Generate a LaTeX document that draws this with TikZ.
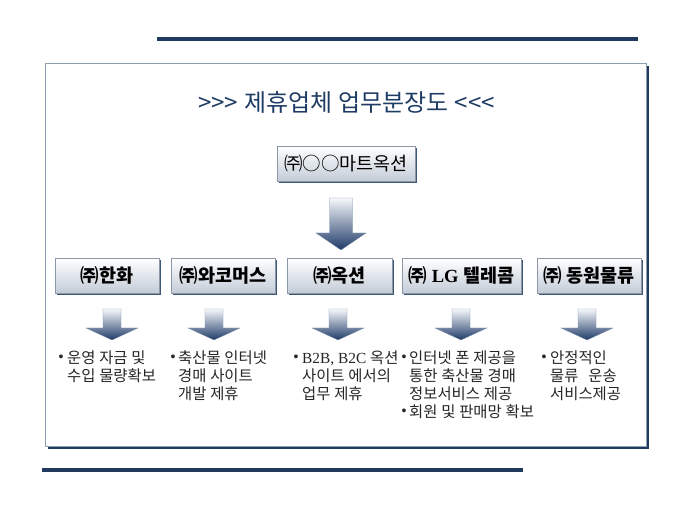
\documentclass[tikz,border=0pt]{standalone}
\usepackage{fontspec}
\usetikzlibrary{shadows}
\newfontfamily\kr[WordSpace=1.35]{Noto Sans CJK KR}
\newfontfamily\krt[WordSpace=1.1]{Noto Sans CJK KR}
\newfontfamily\tms{Liberation Serif}
\newfontfamily\lsans{Liberation Sans}
\definecolor{navy}{HTML}{1F3A5C}
\definecolor{titleblue}{HTML}{1F3C64}
\definecolor{boxbot}{HTML}{C3CCD8}
\definecolor{boxline}{HTML}{8C98A8}
\definecolor{framebd}{HTML}{8FA0B3}
\definecolor{arrowtop}{HTML}{F6F8FB}
\definecolor{arrowmid}{HTML}{A9B8CC}
\definecolor{arrowbot}{HTML}{1E3A68}
\definecolor{arrowline}{HTML}{7F93AD}
\definecolor{bodycol}{HTML}{262626}
\tikzset{
  frameline/.style={line width=3.5pt, draw=navy},
  orgbox/.style={draw=boxline, line width=0.6pt, top color=white, bottom color=boxbot,
    minimum height=35pt, inner sep=0pt, text=black,
    font=\kr\bfseries\fontsize{18.5}{18.5}\selectfont,
    drop shadow={shadow xshift=2pt, shadow yshift=-2pt, fill=navy, opacity=0.85}},
  topbox/.style={orgbox, font=\kr\fontsize{18.5}{18.5}\selectfont},
  blockarrow/.style={top color=arrowtop, middle color=arrowmid, bottom color=arrowbot,
    draw=arrowline, line width=0.3pt},
  bodytext/.style={font=\kr\fontsize{15.4}{15.4}\selectfont, text=bodycol, inner sep=0pt, anchor=west},
  bulletsty/.style={font=\lsans\fontsize{14}{14}\selectfont, text=bodycol, inner sep=0pt},
}
\newcommand\blockarr[6]{% cx, top, headstart, tip, shafthalf, headhalf
  \path[blockarrow] ({#1-#5},#2) -- ({#1+#5},#2) -- ({#1+#5},#3) -- ({#1+#6},#3)
    -- (#1,#4) -- ({#1-#6},#3) -- ({#1-#5},#3) -- cycle;}
\begin{document}
\begin{tikzpicture}[x=1pt,y=-1pt]
\useasboundingbox (0,0) rectangle (680,510);
% decorative lines
\draw[frameline] (157,39) -- (638,39);
\draw[frameline] (42,470) -- (523,470);
% frame with shadow
\fill[navy] (48,66) rectangle (649,449);
\filldraw[fill=white, draw=framebd, line width=0.8pt] (45,63) rectangle (646,446);
% title
\node[font=\krt\fontsize{24}{24}\selectfont, text=titleblue, inner sep=0pt] (title) at (346.5,102) {>>> 제휴업체 업무분장도 <<<};
% top box
\node[topbox, minimum width=138pt] (top) at (346,163.5) {㈜○○마트옥션};
% big arrow
\blockarr{341}{198}{233}{250}{11.5}{25}
% row boxes
\node[orgbox, minimum width=104pt] (b1) at (107,275.5) {㈜한화};
\node[orgbox, minimum width=104pt] (b2) at (223,275.5) {㈜와코머스};
\node[orgbox, minimum width=105pt] (b3) at (339.5,275.5) {㈜옥션};
\node[orgbox, minimum width=119pt] (b4) at (461.5,275.5) {㈜ {\tms\bfseries LG} 텔레콤};
\node[orgbox, minimum width=104pt] (b5) at (589,275.5) {㈜ 동원물류};
% small arrows
\blockarr{112}{309}{328}{340}{9}{26}
\blockarr{214}{309}{328}{340}{9}{26}
\blockarr{338}{309}{328}{340}{9}{26}
\blockarr{461}{309}{328}{340}{9}{26}
\blockarr{587}{309}{328}{340}{9}{26}
% column 1
\node[bulletsty] (c1b) at (61,358) {•};
\node[bodytext] (c1a) at (67,358) {운영 자금 및};
\node[bodytext] (c1c) at (67,376) {수입 물량확보};
% column 2
\node[bulletsty] (c2b) at (173,358) {•};
\node[bodytext] (c2a) at (178,358) {축산물 인터넷};
\node[bodytext] (c2c) at (178,376) {경매 사이트};
\node[bodytext] (c2d) at (178,394) {개발 제휴};
% column 3
\node[bulletsty] (c3b) at (296,358) {•};
\node[bodytext] (c3a) at (302,358) {{\tms B2B, B2C} 옥션};
\node[bodytext] (c3c) at (302,376) {사이트 에서의};
\node[bodytext] (c3d) at (302,394) {업무 제휴};
% column 4
\node[bulletsty] (c4b) at (404,358) {•};
\node[bodytext] (c4a) at (409,358) {인터넷 폰 제공을};
\node[bodytext] (c4c) at (409,376) {통한 축산물 경매};
\node[bodytext] (c4d) at (409,394) {정보서비스 제공};
\node[bulletsty] (c4e) at (404,412) {•};
\node[bodytext] (c4f) at (409,412) {회원 및 판매망 확보};
% column 5
\node[bulletsty] (c5b) at (544,358) {•};
\node[bodytext] (c5a) at (550,358) {안정적인};
\node[bodytext] (c5c) at (550,376) {물류\hspace{6pt} 운송};
\node[bodytext] (c5d) at (550,394) {서비스제공};
\end{tikzpicture}
\end{document}
